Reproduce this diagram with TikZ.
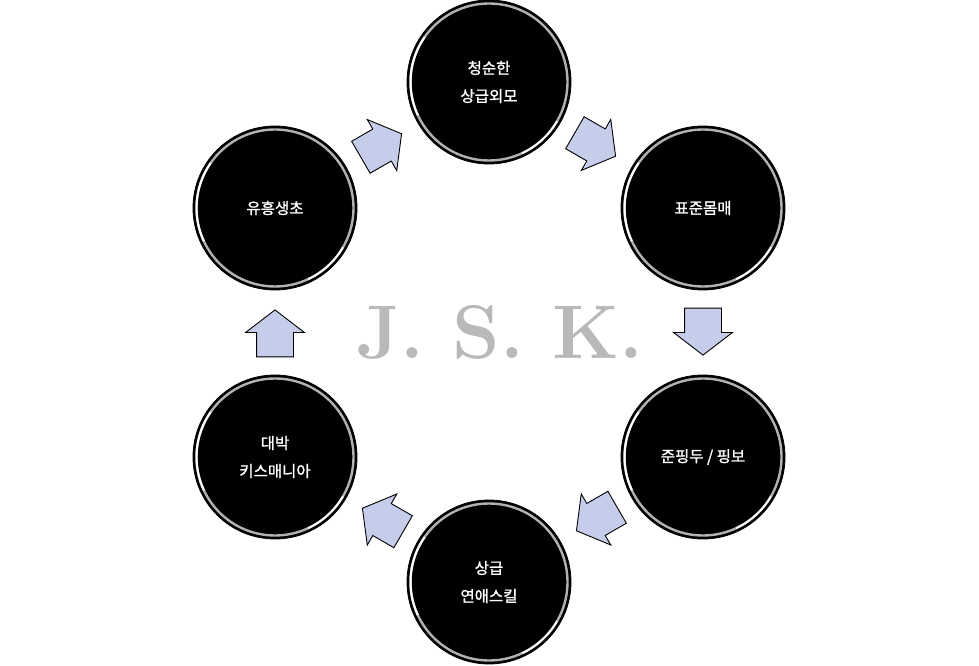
\documentclass[tikz,border=0pt]{standalone}
\usepackage{fontspec}
\newfontfamily\kr[FakeBold=1.4]{Noto Sans CJK KR}
\usetikzlibrary{shapes.arrows,calc}
\definecolor{arrowblue}{RGB}{197,205,235}
\tikzset{
  ball/.style={circle, fill=black, draw=black, line width=0.8pt, minimum size=164pt, inner sep=0pt,
    text=white, align=center, font=\kr\fontsize{15.5}{28}\selectfont},
  turn/.style={single arrow, draw=black, line width=0.9pt, fill=arrowblue, inner xsep=0pt, inner ysep=18pt,
    minimum height=47pt, single arrow head extend=11pt, single arrow tip angle=105},
}
\begin{document}
\begin{tikzpicture}[x=1pt,y=1pt]
				\useasboundingbox (0,0) rectangle (979,665);
				\node[ball] (top) at (489,583) {청순한\\상급외모};
				\node[ball] (ru) at (703,457) {표준몸매};
				\node[ball] (rl) at (703,208) {준핑두 / 핑보};
				\node[ball] (bot) at (489,83) {상급\\연애스킬};
				\node[ball] (ll) at (275,208) {대박\\키스매니아};
				\node[ball] (lu) at (275,457) {유흥생초};
				\foreach \n in {top,ru,rl,bot,ll,lu} {
						\draw[gray!60, line width=2.4pt] (\n.center) circle (78.5pt);
						\draw[white, line width=2pt] ([shift={(145:78.5pt)}]\n.center) arc (145:205:78.5pt);
						\draw[white, line width=1.8pt] ([shift={(-30:78.5pt)}]\n.center) arc (-30:-65:78.5pt);
					}
				% arrows sit between the balls, pulled back a little
				\node[turn, rotate=-30] (a1) at ($(top)!0.5!(ru)!-8pt!(ru)$) {};
				\node[turn, rotate=-90] (a2) at ($(ru)!0.5!(rl)!-8pt!(rl)$) {};
				\node[turn, rotate=-150] (a3) at ($(rl)!0.5!(bot)!-8pt!(bot)$) {};
				\node[turn, rotate=150] (a4) at ($(bot)!0.5!(ll)!-8pt!(ll)$) {};
				\node[turn, rotate=90] (a5) at ($(ll)!0.5!(lu)!-8pt!(lu)$) {};
				\node[turn, rotate=30] (a6) at ($(lu)!0.5!(top)!-8pt!(top)$) {};
				\node[text=gray!55, font=\bfseries\fontsize{76}{76}\selectfont] (jsk) at (500,333) {J. S. K.};
			\end{tikzpicture}
\end{document}
